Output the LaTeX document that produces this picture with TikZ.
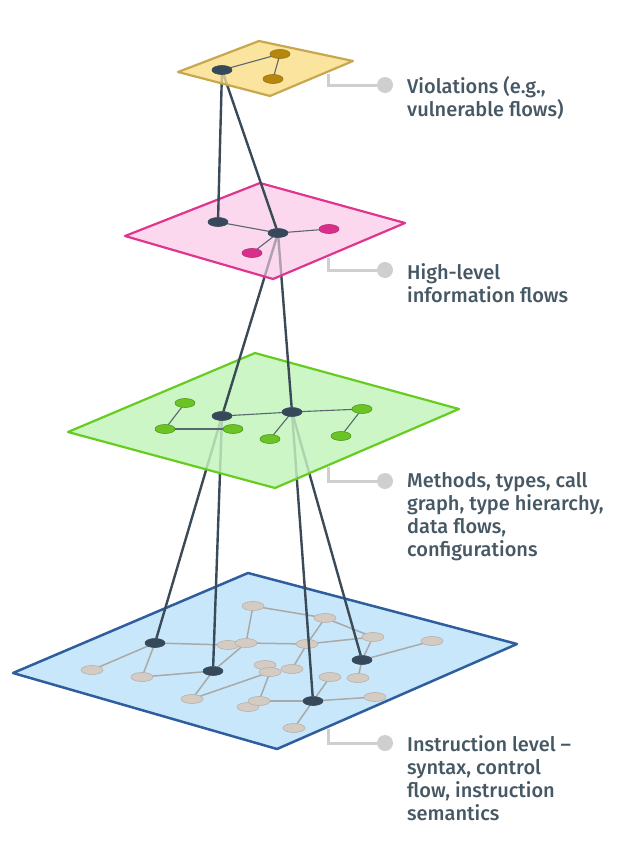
\documentclass[tikz,border=0pt]{standalone}
\usepackage{fontspec}
\setmainfont{Fira Sans}[UprightFont={* Medium}]
\usetikzlibrary{shapes.geometric}
\definecolor{darkn}{HTML}{36495A}
\definecolor{linkc}{HTML}{3A4A57}
\definecolor{edgec}{HTML}{5A6670}
\definecolor{bedgec}{HTML}{A9AAA8}
\definecolor{grayn}{HTML}{D4CBC3}
\definecolor{grayb}{HTML}{B9B0A9}
\definecolor{bluef}{HTML}{C8E7FA}
\definecolor{blueb}{HTML}{2F5E9F}
\definecolor{greenf}{HTML}{CCF6C5}
\definecolor{greenb}{HTML}{66CC1F}
\definecolor{greenn}{HTML}{6CC326}
\definecolor{greennb}{HTML}{4E9A1A}
\definecolor{pinkf}{HTML}{FCD8EE}
\definecolor{pinkb}{HTML}{E0358F}
\definecolor{pinkn}{HTML}{D92F8A}
\definecolor{yellf}{HTML}{FBE49E}
\definecolor{yellb}{HTML}{C8A74E}
\definecolor{goldn}{HTML}{B7860E}
\definecolor{leadc}{HTML}{CFCFCF}
\definecolor{labc}{HTML}{465864}
\pgfdeclarelayer{bp}\pgfdeclarelayer{be}\pgfdeclarelayer{bn}
\pgfdeclarelayer{gpz}\pgfdeclarelayer{lka}\pgfdeclarelayer{gp}\pgfdeclarelayer{ge}\pgfdeclarelayer{gn}
\pgfdeclarelayer{ppz}\pgfdeclarelayer{lkb}\pgfdeclarelayer{pp}\pgfdeclarelayer{pe}\pgfdeclarelayer{pn}
\pgfdeclarelayer{ypz}\pgfdeclarelayer{lkc}\pgfdeclarelayer{yp}\pgfdeclarelayer{ye}\pgfdeclarelayer{yn}
\pgfsetlayers{bp,be,bn,gpz,lka,gp,ge,gn,ppz,lkb,pp,pe,pn,ypz,lkc,yp,ye,yn,main}
\tikzset{
  nd/.style={ellipse, minimum width=20pt, minimum height=9pt, inner sep=0pt, line width=0.6pt},
  dnode/.style={nd, fill=darkn, draw=darkn},
  gnode/.style={nd, minimum width=22pt, fill=grayn, draw=grayb},
  grnode/.style={nd, fill=greenn, draw=greennb},
  pknode/.style={nd, fill=pinkn, draw=pinkn!85!black},
  ydnode/.style={nd, fill=goldn, draw=goldn!85!black},
  plane/.style={line width=2.2pt, line join=round},
  link/.style={draw=linkc, line width=2.4pt},
  edge/.style={draw=edgec, line width=1.1pt},
  bedge/.style={draw=bedgec, line width=1.5pt},
  lead/.style={draw=leadc, line width=3pt},
  dot/.style={circle, fill=leadc, minimum size=16pt, inner sep=0pt},
  lab/.style={anchor=west, align=left, text=labc, inner sep=0pt, font=\fontsize{20}{23}\selectfont},
}
\begin{document}
\begin{tikzpicture}[x=1pt,y=-1pt]
\useasboundingbox (0,0) rectangle (635,841);
% ---------------- blue (instruction) layer
\begin{pgfonlayer}{bp}
\path[plane, fill=bluef, draw=blueb, line width=2.5pt] (13,673) -- (248,573) -- (517,644) -- (277,749) -- cycle;
\end{pgfonlayer}
\begin{pgfonlayer}{bn}
\node[gnode] (g1) at (92,670) {};
\node[gnode] (g2) at (142,677) {};
\node[gnode] (g3) at (228,645) {};
\node[gnode] (g4) at (246,643) {};
\node[gnode] (g5) at (253,606) {};
\node[gnode] (g6) at (325,618) {};
\node[gnode] (g7) at (307,644) {};
\node[gnode] (g8) at (373,637) {};
\node[gnode] (g9) at (432,641) {};
\node[gnode] (g10) at (265,665) {};
\node[gnode] (g11) at (270,672) {};
\node[gnode] (g12) at (292,669) {};
\node[gnode] (g13) at (330,677) {};
\node[gnode] (g14) at (358,678) {};
\node[gnode] (g15) at (192,699) {};
\node[gnode] (g17) at (248,707) {};
\node[gnode] (g16) at (259,701) {};
\node[gnode] (g18) at (375,697) {};
\node[gnode] (g19) at (294,728) {};
\node[dnode] (bA) at (155,643) {};
\node[dnode] (bB) at (213,671) {};
\node[dnode] (bC) at (362,660) {};
\node[dnode] (bD) at (313,701) {};
\end{pgfonlayer}
\begin{pgfonlayer}{be}
\draw[bedge] (bA.center) -- (g1.center);
\draw[bedge] (bA.center) -- (g2.center);
\draw[bedge] (bA.center) -- (g3.center);
\draw[bedge] (g2.center) -- (bB.center);
\draw[bedge] (bB.center) -- (g4.center);
\draw[bedge] (bB.center) -- (g15.center);
\draw[bedge] (g5.center) -- (g4.center);
\draw[bedge] (g5.center) -- (g6.center);
\draw[bedge] (g6.center) -- (g8.center);
\draw[bedge] (g6.center) -- (g7.center);
\draw[bedge] (g4.center) -- (g7.center);
\draw[bedge] (g7.center) -- (g8.center);
\draw[bedge] (g7.center) -- (g12.center);
\draw[bedge] (g8.center) -- (bC.center);
\draw[bedge] (bC.center) -- (g9.center);
\draw[bedge] (bC.center) -- (g14.center);
\draw[bedge] (g15.center) -- (g11.center);
\draw[bedge] (g11.center) -- (g16.center);
\draw[bedge] (g16.center) -- (bD.center);
\draw[bedge] (bD.center) -- (g13.center);
\draw[bedge] (bD.center) -- (g18.center);
\draw[bedge] (bD.center) -- (g19.center);
\end{pgfonlayer}
% ---------------- green layer
\begin{pgfonlayer}{gpz}
\fill[greenf] (68,432) -- (255,353) -- (459,409) -- (275,488) -- cycle;
\end{pgfonlayer}
\begin{pgfonlayer}{gp}
\path[plane, fill=greenf, fill opacity=0.8, draw=greenb] (68,432) -- (255,353) -- (459,409) -- (275,488) -- cycle;
\end{pgfonlayer}
\begin{pgfonlayer}{gn}
\node[grnode] (n1) at (185,403) {};
\node[grnode] (n2) at (165,429) {};
\node[grnode] (n3) at (233,429) {};
\node[grnode] (n4) at (270,439) {};
\node[grnode] (n5) at (362,409) {};
\node[grnode] (n6) at (341,436) {};
\node[dnode] (gA) at (222,416) {};
\node[dnode] (gB) at (292,412) {};
\end{pgfonlayer}
\begin{pgfonlayer}{ge}
\draw[edge] (n1.center) -- (n2.center);
\draw[edge] (n2.center) -- (n3.center);
\draw[edge] (gA.center) -- (gB.center);
\draw[edge] (gB.center) -- (n5.center);
\draw[edge] (n5.center) -- (n6.center);
\draw[edge] (gB.center) -- (n4.center);
\end{pgfonlayer}
\begin{pgfonlayer}{lka}
\draw[link] (gA.center) -- (bA);
\draw[link] (gA.center) -- (bB);
\draw[link] (gB.center) -- (bD);
\draw[link] (gB.center) -- (bC);
\end{pgfonlayer}
% ---------------- pink layer
\begin{pgfonlayer}{ppz}
\fill[pinkf] (125,236) -- (260,183) -- (405,223) -- (273,279) -- cycle;
\end{pgfonlayer}
\begin{pgfonlayer}{pp}
\path[plane, fill=pinkf, fill opacity=0.6, draw=pinkb] (125,236) -- (260,183) -- (405,223) -- (273,279) -- cycle;
\end{pgfonlayer}
\begin{pgfonlayer}{pn}
\node[dnode] (pA) at (218,222) {};
\node[dnode] (pB) at (278,233) {};
\node[pknode] (q1) at (329,229) {};
\node[pknode] (q2) at (252,253) {};
\end{pgfonlayer}
\begin{pgfonlayer}{pe}
\draw[edge] (pA.center) -- (pB.center);
\draw[edge] (pB.center) -- (q1.center);
\draw[edge] (pB.center) -- (q2.center);
\end{pgfonlayer}
\begin{pgfonlayer}{lkb}
\draw[link] (pB.center) -- (gA);
\draw[link] (pB.center) -- (gB);
\end{pgfonlayer}
% ---------------- yellow layer
\begin{pgfonlayer}{ypz}
\fill[yellf] (178,72) -- (259,41) -- (353,61) -- (270,96) -- cycle;
\end{pgfonlayer}
\begin{pgfonlayer}{yp}
\path[plane, fill=yellf, fill opacity=0.75, draw=yellb] (178,72) -- (259,41) -- (353,61) -- (270,96) -- cycle;
\end{pgfonlayer}
\begin{pgfonlayer}{yn}
\node[dnode] (yA) at (222,70) {};
\node[ydnode] (y1) at (280,54) {};
\node[ydnode] (y2) at (273,79) {};
\end{pgfonlayer}
\begin{pgfonlayer}{ye}
\draw[edge] (yA.center) -- (y1.center);
\draw[edge] (y1.center) -- (y2.center);
\end{pgfonlayer}
\begin{pgfonlayer}{lkc}
\draw[link] (yA.center) -- (pA);
\draw[link] (yA.center) -- (pB);
\end{pgfonlayer}
% ---------------- labels
\coordinate (va) at (328,74);
\node[dot] (vd) at (385,85) {};
\draw[lead] (va) |- (vd);
\node[lab] (vt) at (407,98) {Violations (e.g.,\\vulnerable flows)};
\coordinate (ha) at (328,258);
\node[dot] (hd) at (385,270) {};
\draw[lead] (ha) |- (hd);
\node[lab] (ht) at (407,283) {High-level\\information flows};
\coordinate (ma) at (328,467);
\node[dot] (md) at (385,481) {};
\draw[lead] (ma) |- (md);
\node[lab] (mt) at (407,517) {Methods, types, call\\graph, type hierarchy,\\data flows,\\configurations};
\coordinate (ia) at (328,729);
\node[dot] (id) at (385,743) {};
\draw[lead] (ia) |- (id);
\node[lab] (it) at (407,778) {Instruction level --\\syntax, control\\flow, instruction\\semantics};
\end{tikzpicture}
\end{document}
